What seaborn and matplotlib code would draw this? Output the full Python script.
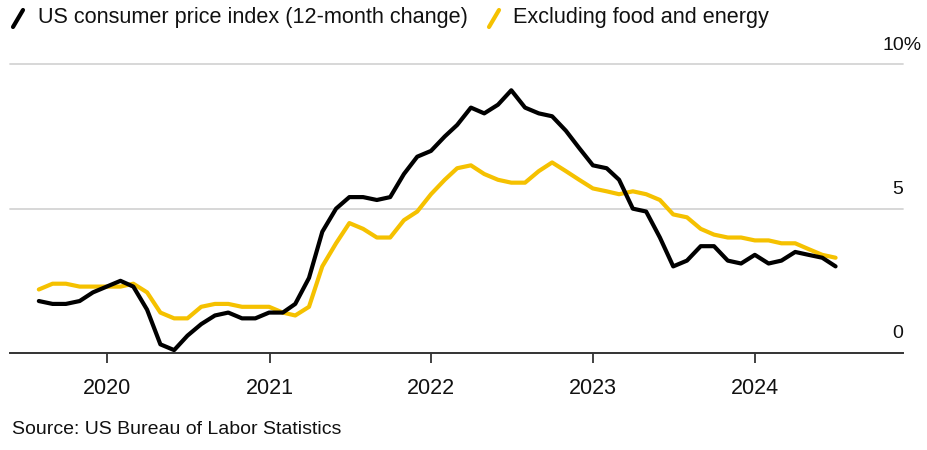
import numpy as np
import pandas as pd
import matplotlib
matplotlib.use("Agg")
import matplotlib.pyplot as plt
import matplotlib.dates as mdates
from matplotlib.lines import Line2D
import seaborn as sns

# ---- data (monthly, Jul 2019 - Jun 2024) ----
start_month = "2019-07-31"
headline = [1.8, 1.7, 1.7, 1.8, 2.1, 2.3,
            2.5, 2.3, 1.5, 0.3, 0.1, 0.6, 1.0, 1.3, 1.4, 1.2, 1.2, 1.4,
            1.4, 1.7, 2.6, 4.2, 5.0, 5.4, 5.4, 5.3, 5.4, 6.2, 6.8, 7.0,
            7.5, 7.9, 8.5, 8.3, 8.6, 9.1, 8.5, 8.3, 8.2, 7.7, 7.1, 6.5,
            6.4, 6.0, 5.0, 4.9, 4.0, 3.0, 3.2, 3.7, 3.7, 3.2, 3.1, 3.4,
            3.1, 3.2, 3.5, 3.4, 3.3, 3.0]
core = [2.2, 2.4, 2.4, 2.3, 2.3, 2.3,
        2.3, 2.4, 2.1, 1.4, 1.2, 1.2, 1.6, 1.7, 1.7, 1.6, 1.6, 1.6,
        1.4, 1.3, 1.6, 3.0, 3.8, 4.5, 4.3, 4.0, 4.0, 4.6, 4.9, 5.5,
        6.0, 6.4, 6.5, 6.2, 6.0, 5.9, 5.9, 6.3, 6.6, 6.3, 6.0, 5.7,
        5.6, 5.5, 5.6, 5.5, 5.3, 4.8, 4.7, 4.3, 4.1, 4.0, 4.0, 3.9,
        3.9, 3.8, 3.8, 3.6, 3.4, 3.3]
series_names = ["US consumer price index (12-month change)", "Excluding food and energy"]
year_ticks = ["2020", "2021", "2022", "2023", "2024"]
y_ticks = [0, 5, 10]
y_tick_labels = ["0", "5", "10%"]
source = "Source: US Bureau of Labor Statistics"

dates = pd.date_range(start_month, periods=len(headline), freq="ME")
df = pd.DataFrame({"date": dates, "headline": headline, "core": core})

BLACK = "#000000"
YELLOW = "#F5C100"

sns.set_theme(style="white")
plt.rcParams["font.family"] = ["Liberation Sans", "DejaVu Sans"]

W, H = 927, 450
fig = plt.figure(figsize=(W / 100, H / 100), dpi=100)
ax_left, ax_right, ax_bottom, ax_top = 10, 903, 353, 64.3
ax = fig.add_axes([ax_left / W, 1 - ax_bottom / H, (ax_right - ax_left) / W, (ax_bottom - ax_top) / H])

sns.lineplot(data=df, x="date", y="core", color=YELLOW, linewidth=3, ax=ax)
sns.lineplot(data=df, x="date", y="headline", color=BLACK, linewidth=3, ax=ax)

ax.set_xlim(pd.Timestamp("2019-05-27"), pd.Timestamp("2024-11-29"))
ax.set_ylim(0, 10)
ax.set_xlabel("")
ax.set_ylabel("")

# gridlines
for v in y_ticks[1:]:
    ax.axhline(v, color="#d4d4d4", linewidth=1.3, zorder=0, clip_on=False)

for s in ["top", "right", "left"]:
    ax.spines[s].set_visible(False)
ax.spines["bottom"].set_color("#333333")
ax.spines["bottom"].set_linewidth(1.4)

ax.set_xticks([pd.Timestamp(f"{y}-01-01") for y in year_ticks])
ax.set_xticklabels(year_ticks)
ax.tick_params(axis="x", direction="out", length=7, width=1.3, color="#333333",
               labelsize=15.5, pad=11, labelcolor="#111111", bottom=True)
ax.set_yticks([])

# y labels on right above gridlines
for v, lab in zip(y_ticks, y_tick_labels):
    dx = 19 if lab.endswith("%") else 0
    ax.annotate(lab, xy=(1, v), xycoords=("axes fraction", "data"),
                xytext=(dx, 19), textcoords="offset pixels",
                ha="right", va="center", fontsize=14, color="#111111",
                annotation_clip=False)

# legend (custom slash markers)
fig.add_artist(Line2D([13 / W, 23 / W], [1 - 27 / H, 1 - 10 / H], color=BLACK, linewidth=3))
fig.text(38 / W, 1 - 18 / H, series_names[0], fontsize=15.6, color="#111111", va="center", ha="left")
fig.add_artist(Line2D([489 / W, 499 / W], [1 - 27 / H, 1 - 10 / H], color=YELLOW, linewidth=3))
fig.text(513 / W, 1 - 18 / H, series_names[1], fontsize=15.6, color="#111111", va="center", ha="left")

fig.text(12 / W, 1 - 430 / H, source, fontsize=14, color="#111111", va="center", ha="left")

fig.savefig("out.png", dpi=100, facecolor="white")
